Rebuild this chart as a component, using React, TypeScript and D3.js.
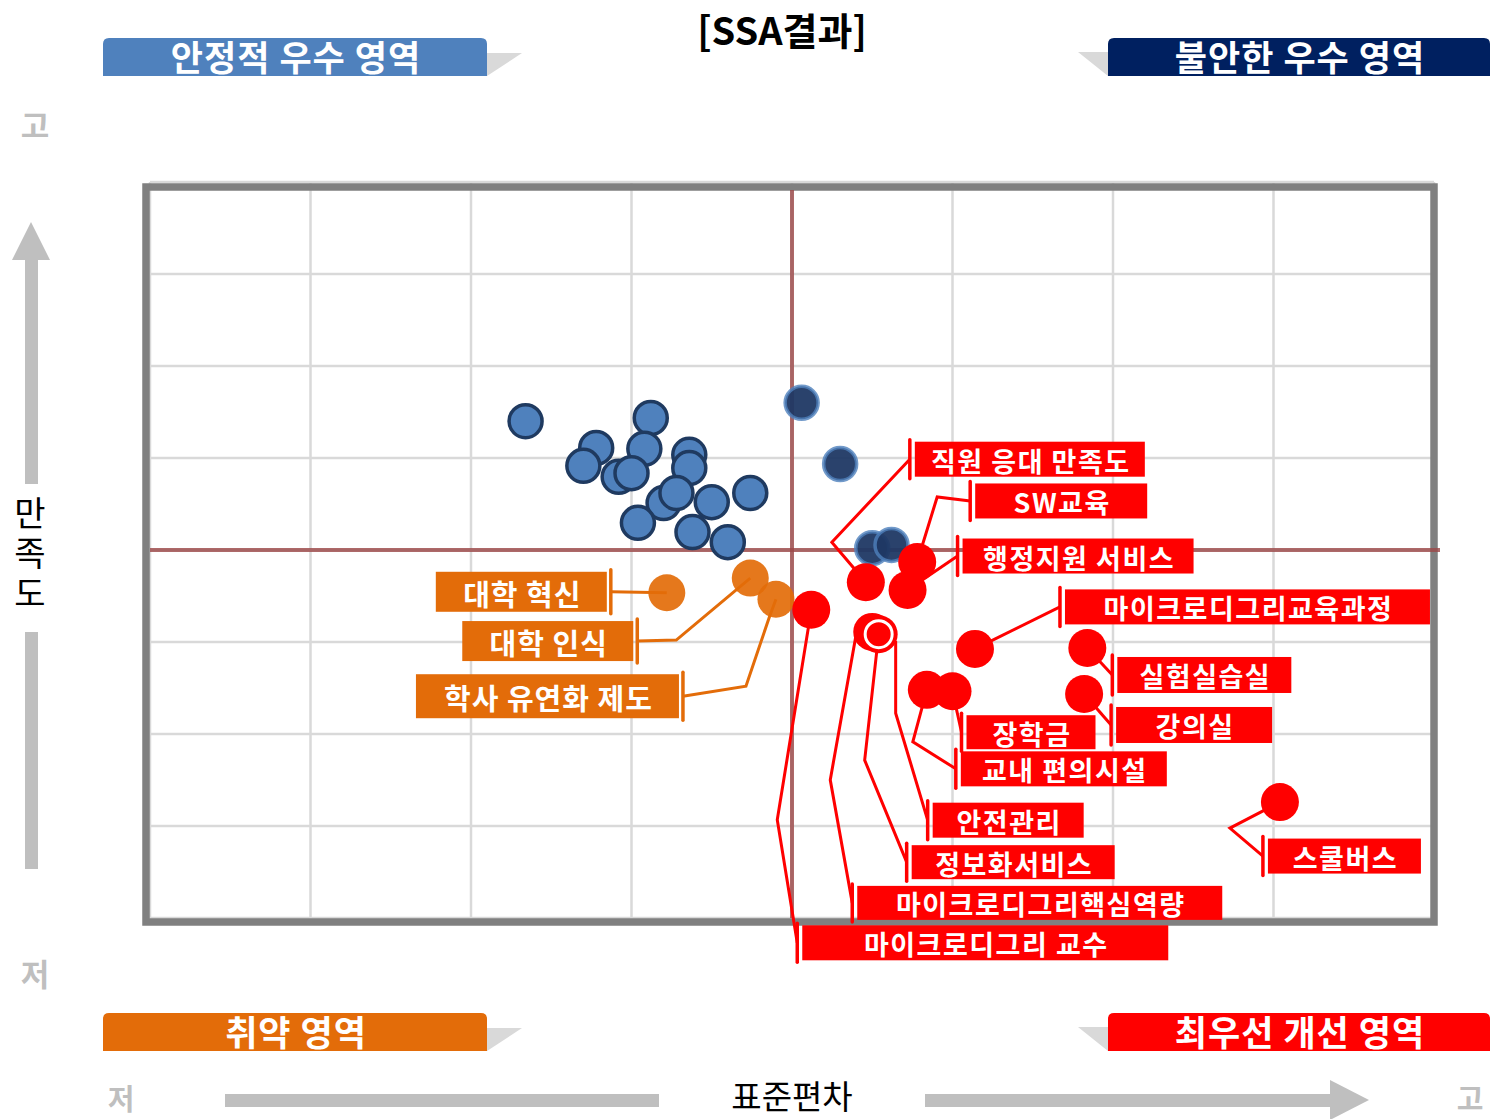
import React, { useEffect, useRef } from "react";
import * as d3 from "d3";

// x: 표준편차, y: 만족도
const xTicks = [0.7, 0.75, 0.8, 0.85, 0.9, 0.95, 1.0, 1.05, 1.1];
const yTicks = [3.0, 3.2, 3.4, 3.6, 3.8, 4.0, 4.2, 4.4, 4.6];
const xMean = 0.9;
const yMean = 3.8;

// 안정적 우수 영역
const stableX = [0.817, 0.856, 0.839, 0.854, 0.835, 0.846, 0.85, 0.868, 0.868, 0.86, 0.864, 0.875, 0.887, 0.852, 0.869, 0.88];
const stableY = [4.08, 4.087, 4.022, 4.02, 3.983, 3.959, 3.967, 4.007, 3.978, 3.902, 3.924, 3.904, 3.924, 3.859, 3.839, 3.817];

// 불안한 우수 영역
const unstableX = [0.903, 0.915, 0.925, 0.931];
const unstableY = [4.12, 3.987, 3.804, 3.811];

// 취약 영역
const weakItems = ["대학 혁신", "대학 인식", "학사 유연화 제도"];
const weakX = [0.861, 0.887, 0.895];
const weakY = [3.707, 3.739, 3.693];

// 최우선 개선 영역
const priorityItems = [
  "직원 응대 만족도", "SW교육", "행정지원 서비스", "마이크로디그리 교수", "마이크로디그리핵심역량",
  "정보화서비스", "안전관리", "마이크로디그리교육과정", "실험실습실", "강의실", "장학금", "교내 편의시설", "스쿨버스",
];
const priorityX = [0.923, 0.939, 0.936, 0.906, 0.925, 0.927, 0.927, 0.957, 0.992, 0.991, 0.95, 0.942, 1.052];
const priorityY = [3.73, 3.774, 3.713, 3.67, 3.622, 3.617, 3.617, 3.585, 3.587, 3.487, 3.493, 3.496, 3.252];

// 말풍선 배치 (점 기준 오프셋)
const calloutLayout = {
  "직원 응대 만족도": { bar: [44, -123], w: 230, h: 35, via: [[-34, -40]] },
  "SW교육": { bar: [53, -61], w: 172, h: 35, via: [[20, -65]] },
  "행정지원 서비스": { bar: [50, -34], w: 231, h: 35, via: [] },
  "마이크로디그리교육과정": { bar: [85, -42], w: 365, h: 35, via: [] },
  "실험실습실": { bar: [25, 27], w: 174, h: 36, via: [] },
  "강의실": { bar: [27, 31], w: 156, h: 36, via: [] },
  "장학금": { bar: [9, 41], w: 129, h: 34, via: [] },
  "교내 편의시설": { bar: [29, 79], w: 206, h: 35, via: [[-14, 52]] },
  "안전관리": { bar: [49, 186], w: 151, h: 35, via: [[17, 8], [17, 79]] },
  "정보화서비스": { bar: [28, 228], w: 203, h: 34, via: [[-14, 126]] },
  "마이크로디그리핵심역량": { bar: [-20, 271], w: 365, h: 34, via: [[-16, 2], [-42, 148]] },
  "마이크로디그리 교수": { bar: [-14, 333], w: 366, h: 35, via: [[-34, 210]] },
  "스쿨버스": { bar: [-17, 54], w: 153, h: 35, via: [[-50, 26]] },
  "대학 혁신": { bar: [-56, -1], w: 171, h: 40, via: [] },
  "대학 인식": { bar: [-113, 63], w: 171, h: 40, via: [[-74, 62]] },
  "학사 유연화 제도": { bar: [-93, 97], w: 263, h: 44, via: [[-7, 19], [-30, 87]] },
};

const FONT = "'Noto Sans CJK KR', 'Malgun Gothic', sans-serif";
const GRAY = "#bfbfbf";
const BLUE = "#4f81bd";
const NAVY = "#1f3864";
const ORANGE = "#e36c09";
const RED = "#ff0000";

const App = () => {
  const ref = useRef(null);

  useEffect(() => {
    const width = 1490;
    const height = 1119;
    const svg = d3.select(ref.current).attr("width", width).attr("height", height);
    svg.selectAll("*").remove();
    svg.append("rect").attr("width", width).attr("height", height).attr("fill", "white");

    const x = d3.scaleLinear().domain([0.7, 1.1]).range([150, 1434]);
    const y = d3.scaleLinear().domain([3.0, 4.6]).range([918, 182]);

    // === 그리드 ===
    const grid = svg.append("g");
    grid.selectAll("line.v").data(xTicks).join("line")
      .attr("x1", (d) => x(d)).attr("x2", (d) => x(d))
      .attr("y1", y(4.6)).attr("y2", y(3.0))
      .attr("stroke", "#d9d9d9").attr("stroke-width", 2.5);
    grid.selectAll("line.h").data(yTicks).join("line")
      .attr("x1", x(0.7)).attr("x2", x(1.1))
      .attr("y1", (d) => y(d)).attr("y2", (d) => y(d))
      .attr("stroke", "#d9d9d9").attr("stroke-width", 2.5);

    svg.append("rect")
      .attr("x", x(0.7) - 4).attr("y", y(4.6) + 5)
      .attr("width", x(1.1) - x(0.7) + 4).attr("height", y(3.0) - y(4.6) - 1)
      .attr("fill", "none").attr("stroke", "#808080").attr("stroke-width", 7.5);

    // 사분면 기준선
    svg.append("line")
      .attr("x1", x(xMean)).attr("x2", x(xMean)).attr("y1", y(4.6) + 8).attr("y2", y(3.0))
      .attr("stroke", "#9b4646").attr("stroke-opacity", 0.8).attr("stroke-width", 4);
    svg.append("line")
      .attr("x1", x(0.7)).attr("x2", x(1.1) + 6).attr("y1", y(yMean)).attr("y2", y(yMean))
      .attr("stroke", "#9b4646").attr("stroke-opacity", 0.8).attr("stroke-width", 4);

    // === 말풍선 ===
    const lineGen = d3.line();
    const callouts = [
      ...weakItems.map((name, i) => ({ name, px: x(weakX[i]), py: y(weakY[i]), color: ORANGE, side: "left" })),
      ...priorityItems.map((name, i) => ({ name, px: x(priorityX[i]), py: y(priorityY[i]), color: RED, side: "right" })),
    ];

    const leaders = svg.append("g");
    callouts.forEach((c) => {
      const lay = calloutLayout[c.name];
      const pts = [[c.px, c.py], ...lay.via.map(([dx, dy]) => [c.px + dx, c.py + dy]), [c.px + lay.bar[0], c.py + lay.bar[1]]];
      leaders.append("path")
        .attr("d", lineGen(pts))
        .attr("fill", "none").attr("stroke", c.color).attr("stroke-width", 3).attr("stroke-linejoin", "miter");
    });

    // === 점 ===
    const pts = svg.append("g");
    stableX.forEach((d, i) => {
      pts.append("circle").attr("cx", x(d)).attr("cy", y(stableY[i])).attr("r", 16.5)
        .attr("fill", BLUE).attr("stroke", "#1f3a60").attr("stroke-width", 3.5);
    });
    unstableX.forEach((d, i) => {
      pts.append("circle").attr("cx", x(d)).attr("cy", y(unstableY[i])).attr("r", 16.5)
        .attr("fill", NAVY).attr("fill-opacity", 0.95)
        .attr("stroke", BLUE).attr("stroke-opacity", 0.8).attr("stroke-width", 3.5);
    });
    weakX.forEach((d, i) => {
      pts.append("circle").attr("cx", x(d)).attr("cy", y(weakY[i])).attr("r", 18.5)
        .attr("fill", ORANGE).attr("fill-opacity", 0.92);
    });
    const drawn = [];
    priorityX.forEach((d, i) => {
      const cx = x(d);
      const cy = y(priorityY[i]);
      const dup = drawn.some(([ax, ay]) => Math.abs(ax - cx) < 3 && Math.abs(ay - cy) < 3);
      const c = pts.append("circle").attr("cx", cx).attr("cy", cy).attr("fill", RED);
      if (dup) c.attr("r", 13.5).attr("stroke", "white").attr("stroke-width", 3);
      else c.attr("r", 19);
      drawn.push([cx, cy]);
    });

    // 라벨 상자
    const boxes = svg.append("g");
    callouts.forEach((c) => {
      const lay = calloutLayout[c.name];
      const bx = c.px + lay.bar[0];
      const by = c.py + lay.bar[1];
      const left = c.side === "right" ? bx + 5 : bx - 4 - lay.w;
      boxes.append("line")
        .attr("x1", bx).attr("x2", bx).attr("y1", by - lay.h / 2 - 2).attr("y2", by + lay.h / 2 + 2)
        .attr("stroke", c.color).attr("stroke-width", 3.5).attr("stroke-linecap", "round");
      boxes.append("rect")
        .attr("x", left).attr("y", by - lay.h / 2).attr("width", lay.w).attr("height", lay.h)
        .attr("fill", c.color);
      boxes.append("text")
        .attr("x", left + lay.w / 2 + 1).attr("y", by + 1)
        .attr("text-anchor", "middle").attr("dominant-baseline", "central")
        .attr("font-family", FONT).attr("font-weight", 700)
        .attr("font-size", c.side === "left" ? 29 : 27)
        .attr("letter-spacing", c.side === "left" ? 1 : 1.5)
        .attr("fill", "white")
        .text(c.name);
    });

    // === 배너 ===
    const banner = (bx, by, w, h, fill, label, tail) => {
      const r = 6;
      const g = svg.append("g");
      const tri = tail === "right"
        ? [[bx + w, by + 15], [bx + w + 35, by + 15], [bx + w, by + h]]
        : [[bx, by + 14], [bx - 30, by + 14], [bx, by + h]];
      g.append("path").attr("d", lineGen(tri) + "Z").attr("fill", "#d9d9d9");
      g.append("path")
        .attr("d", `M${bx},${by + h}V${by + r}Q${bx},${by} ${bx + r},${by}H${bx + w - r}Q${bx + w},${by} ${bx + w},${by + r}V${by + h}Z`)
        .attr("fill", fill);
      g.append("text")
        .attr("x", bx + w / 2 + 1).attr("y", by + h / 2 - 2)
        .attr("text-anchor", "middle").attr("dominant-baseline", "central")
        .attr("font-family", FONT).attr("font-weight", 700).attr("font-size", 35)
        .attr("letter-spacing", 1)
        .attr("fill", "white").text(label);
    };
    banner(103, 38, 384, 38, BLUE, "안정적 우수 영역", "right");
    banner(1108, 38, 382, 38, "#002060", "불안한 우수 영역", "left");
    banner(103, 1013, 384, 38, ORANGE, "취약 영역", "right");
    banner(1108, 1013, 382, 38, RED, "최우선 개선 영역", "left");

    // 제목
    svg.append("text")
      .attr("x", 782).attr("y", 28)
      .attr("text-anchor", "middle").attr("dominant-baseline", "central")
      .attr("font-family", FONT).attr("font-weight", 700).attr("font-size", 38)
      .attr("fill", "black").text("[SSA결과]");

    // === 축 화살표 ===
    const gray = (tx, ty, t, fs) => svg.append("text")
      .attr("x", tx).attr("y", ty).attr("text-anchor", "middle").attr("dominant-baseline", "central")
      .attr("font-family", FONT).attr("font-weight", 700).attr("font-size", fs)
      .attr("fill", GRAY).text(t);
    gray(35, 123, "고", 31);
    gray(35, 972, "저", 31);
    gray(121, 1097, "저", 29);
    gray(1470, 1097, "고", 29);

    svg.append("rect").attr("x", 25).attr("y", 258).attr("width", 13).attr("height", 226).attr("fill", GRAY);
    svg.append("path").attr("d", lineGen([[31, 222], [50, 260], [12, 260]]) + "Z").attr("fill", GRAY);
    svg.append("rect").attr("x", 25).attr("y", 632).attr("width", 13).attr("height", 237).attr("fill", GRAY);
    svg.append("text")
      .attr("x", 30).attr("y", 556)
      .attr("writing-mode", "vertical-rl")
      .attr("text-anchor", "middle")
      .attr("letter-spacing", 6)
      .attr("font-family", FONT).attr("font-size", 34).attr("fill", "black")
      .text("만족도");

    svg.append("rect").attr("x", 225).attr("y", 1094).attr("width", 434).attr("height", 13).attr("fill", GRAY);
    svg.append("rect").attr("x", 925).attr("y", 1094).attr("width", 407).attr("height", 13).attr("fill", GRAY);
    svg.append("path").attr("d", lineGen([[1330, 1080], [1369, 1100], [1330, 1120]]) + "Z").attr("fill", GRAY);
    svg.append("text")
      .attr("x", 792).attr("y", 1095)
      .attr("text-anchor", "middle").attr("dominant-baseline", "central")
      .attr("font-family", FONT).attr("font-size", 33).attr("fill", "black").text("표준편차");
  }, []);

  return (
    <div style={{ position: "absolute", left: 0, top: 0 }}>
      <svg ref={ref} style={{ display: "block" }}></svg>
    </div>
  );
};

export default App;
